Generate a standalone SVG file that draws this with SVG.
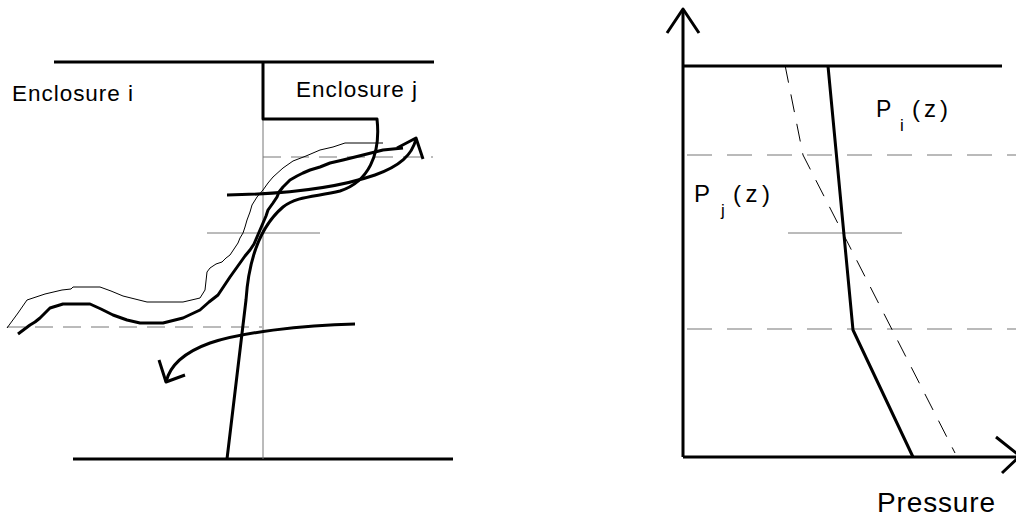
<svg xmlns="http://www.w3.org/2000/svg" width="1016" height="518" viewBox="0 0 1016 518">
<style>
.thick{fill:none;stroke:#000;stroke-width:3;stroke-linejoin:round;stroke-linecap:butt}
.thin{fill:none;stroke:#000;stroke-width:1}
.gray{fill:none;stroke:#777;stroke-width:1}
.gdash{fill:none;stroke:#777;stroke-width:1;stroke-dasharray:18 10}
.gdash2{fill:none;stroke:#777;stroke-width:1.2;stroke-dasharray:25 15}
.bdash{fill:none;stroke:#000;stroke-width:1;stroke-dasharray:18 12}
text{font-family:"Liberation Sans",Arial,sans-serif;fill:#000}
</style>
<rect width="1016" height="518" fill="#fff"/>
<g id="left-building">
<path class="thick" d="M54,62 H434"/>
<path class="thick" d="M73,459 H453"/>
<path class="gray" d="M263,119 V459"/>
<path class="gdash" d="M263,157 H433"/>
<path class="gray" d="M207,233 H320"/>
<path class="gdash" d="M7,327 H262"/>
<path class="thick" d="M263,62 V119 H377 C381,155 368,182 340,191 C315,197 297,196 283,207 C262,225 249,255 246,300 L227,459"/>
</g>
<g id="labels-left">
<text x="12" y="101" font-size="22.5" textLength="121" lengthAdjust="spacing">Enclosure i</text>
<text x="296" y="97" font-size="22.5" textLength="121" lengthAdjust="spacing">Enclosure j</text>
</g>
<g id="connectors">
<polyline class="thin" points="383,143 345,143 333,147 320,150 306,156 293,161 283,168 273,177 268,183 263,190 257,197 252,205 250,212 247,220 245,227 243,233 240,238 238,243 234,249 230,255 226,258 222,262 216,264 210,268 207,272 206,281 205,290 200,298 183,302 147,302 135,299 123,296 111,291 100,287 73,287 71,289 62,290 45,294 27,300 18,313 7,328"/>
<polyline class="thick" points="403,148 383,150 363,155 343,160 330,163 320,167 310,170 303,173 297,176 290,180 283,187 279,192 277,197 273,203 268,210 266,216 263,223 260,230 257,237 254,244 250,250 245,256 240,263 235,270 230,277 224,286 218,295 209,302 200,310 183,318 163,323 140,323 127,320 113,315 101,309 90,304 63,304 50,308 45,313 40,318 35,322 30,325 18,334"/>
<path class="thick" d="M227,195 C290,194 340,187 375,175 C400,166 412,155 416,139"/>
<path class="thick" d="M397,148 L416,138 L423,159"/>
<path class="thick" d="M355,324 C300,325 240,333 210,343 C185,352 170,365 166,382"/>
<path class="thick" d="M159,360 L166,382 L185,375"/>
</g>
<g id="pressure-chart">
<path class="thick" d="M683,10 V457"/>
<path class="thick" d="M667,33 L683,9 L699,33"/>
<path class="thick" d="M683,66 H1002"/>
<path class="thick" d="M683,457 H1020"/>
<path class="thick" d="M996,437 L1020,456 L1002,473"/>
<path class="gdash2" d="M687,155 H1016"/>
<path class="gdash2" d="M687,329 H1016"/>
<path class="gray" d="M788,233 H902"/>
<path class="thick" d="M828,66 L853,330 L913,457"/>
<path class="bdash" d="M785,65 L803,155 L955,453"/>
</g>
<g id="labels-right">
<text x="876" y="117" font-size="23">P</text>
<text x="900" y="131" font-size="17">i</text>
<text x="912" y="117" font-size="24" textLength="36" lengthAdjust="spacing">(z)</text>
<text x="694" y="202" font-size="24">P</text>
<text x="721" y="216" font-size="17">j</text>
<text x="733" y="202" font-size="24" textLength="37" lengthAdjust="spacing">(z)</text>
<text x="877" y="512" font-size="28" textLength="118" lengthAdjust="spacing">Pressure</text>
</g>
</svg>
